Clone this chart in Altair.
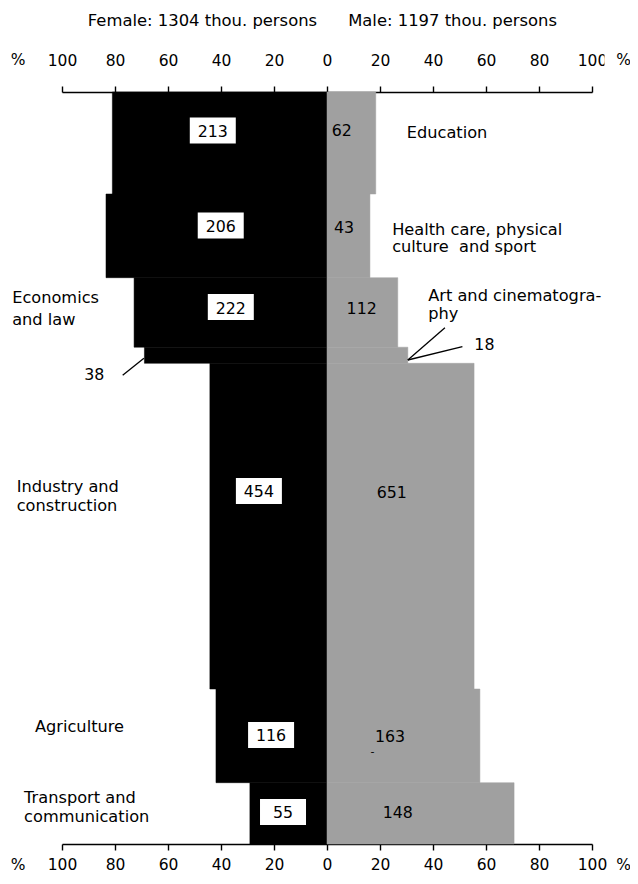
import altair as alt
import pandas as pd

# ---------------- data ----------------
categories = ["Education", "Health care, physical culture and sport", "Economics and law",
              "Art and cinematography", "Industry and construction", "Agriculture",
              "Transport and communication"]
female_thou = [213, 206, 222, 38, 454, 116, 55]
male_thou = [62, 43, 112, 18, 651, 163, 148]
# bar widths in % (as drawn)
female_pct = [81.0, 83.4, 72.8, 68.9, 44.2, 41.9, 29.1]
male_pct = [18.4, 16.2, 26.7, 30.5, 55.5, 57.7, 70.6]
# vertical extent of each band (chart units, top = 0)
band_top = [0, 102, 185.7, 255.2, 271.3, 597, 690.7]
band_bottom = [102, 185.7, 255.2, 271.3, 597, 690.7, 752]

tick_values = [-100, -80, -60, -40, -20, 0, 20, 40, 60, 80, 100]

# annotation positions (x in %, y in chart units)
fbox_x = [-43.1, -40.1, -36.3, None, -25.7, -21.1, -16.6]
fbox_y = [38.5, 133.5, 215.0, None, 399.0, 643.0, 720.0]
flabel_y = [45.0, 139.8, 221.5, None, 404.8, 649.0, 726.0]
mlabel_x = [1.8, 2.6, 7.4, None, 18.75, 18.1, 21.0]
mlabel_y = [44.0, 140.7, 221.5, None, 406.3, 649.7, 726.3]

cat_text = ["Education", "Health care, physical", "culture\u00a0 and sport",
            "Art and cinematogra-", "phy", "Economics", "and law",
            "Industry and", "construction", "Agriculture",
            "Transport and", "communication"]
cat_x = [30.1, 24.6, 24.6, 38.2, 38.2, -118.8, -118.8, -117.1, -117.1, -110.2, -114.3, -114.3]
cat_y = [46.3, 142.6, 159.9, 209.3, 226.5, 211.3, 233.0, 399.7, 418.7, 640.3, 710.7, 729.7]

out_text = ["38", "18"]
out_x = [-91.6, 55.6]
out_y = [288.0, 258.0]

lead_x = [-77.1, 30.5, 30.5]
lead_x2 = [-69.1, 44.5, 51.1]
lead_y = [283.3, 268.0, 268.0]
lead_y2 = [266.3, 235.7, 254.7]

head_text = ["Female: 1304 thou. persons", "Male: 1197 thou. persons"]
head_x = [-47.0, 47.4]
head_y = [-66.0, -66.0]

pct_text = ["%", "%", "%", "%"]
pct_x = [-116.6, 111.9, -116.6, 111.9]
pct_y = [-27.5, -27.5, 777.5, 777.5]

FONT = "DejaVu Sans"
GRAY = "#a0a0a0"

# ---------------- tables ----------------
bars = pd.DataFrame({
    "category": categories,
    "fx": [-v for v in female_pct],
    "mx": male_pct,
    "zero": [0] * len(categories),
    "top": band_top,
    "bottom": band_bottom,
})

fl = pd.DataFrame({"t": [str(v) for v in female_thou], "bx": fbox_x, "by": fbox_y, "ty": flabel_y}).dropna()
ml = pd.DataFrame({"t": [str(v) for v in male_thou], "x": mlabel_x, "y": mlabel_y}).dropna()
cl = pd.DataFrame({"t": cat_text, "x": cat_x, "y": cat_y})
ol = pd.DataFrame({"t": out_text, "x": out_x, "y": out_y})
ld = pd.DataFrame({"x": lead_x, "x2": lead_x2, "y": lead_y, "y2": lead_y2})
hd = pd.DataFrame({"t": head_text, "x": head_x, "y": head_y})
pc = pd.DataFrame({"t": pct_text, "x": pct_x, "y": pct_y})
dash = pd.DataFrame({"t": ["-"], "x": [17.2], "y": [660.0]})
# white patch that hides part of the last top tick label, as in the original
patch = pd.DataFrame({"x": [106.4], "y": [-32.0]})

xs = alt.Scale(domain=[-100, 100], nice=False, zero=False)
ys = alt.Scale(domain=[0, 752], reverse=True, nice=False, zero=False)


def make_axis(orient, pad):
    return alt.Axis(orient=orient, values=tick_values, labelExpr="'' + abs(datum.value)",
                    title=None, grid=False, domainColor="black", domainWidth=1.6,
                    tickColor="black", tickWidth=1.4, tickSize=6,
                    labelFont=FONT, labelFontSize=15.5, labelColor="black",
                    labelPadding=pad, labelOverlap=False, labelFlush=False, labelBound=False)


female = alt.Chart(bars).mark_rect(color="black", stroke="black", strokeWidth=0.5).encode(
    x=alt.X("fx:Q", scale=xs, axis=make_axis("top", 18)),
    x2="zero:Q",
    y=alt.Y("top:Q", scale=ys, axis=None),
    y2="bottom:Q",
)
male = alt.Chart(bars).mark_rect(color=GRAY, stroke=GRAY, strokeWidth=0.5).encode(
    x=alt.X("zero:Q", scale=xs, axis=make_axis("bottom", 7)),
    x2="mx:Q",
    y=alt.Y("top:Q", scale=ys, axis=None),
    y2="bottom:Q",
)

box_path = "M-1,-0.565L1,-0.565L1,0.565L-1,0.565Z"
boxes = alt.Chart(fl).mark_point(shape=box_path, size=2116, filled=True, color="white",
                                 opacity=1, strokeWidth=0).encode(
    x=alt.X("bx:Q", scale=xs, axis=None),
    y=alt.Y("by:Q", scale=ys, axis=None),
)

patch_mark = alt.Chart(patch).mark_point(shape="M-1,-2L1,-2L1,2L-1,2Z", size=81, filled=True,
                                         color="white", opacity=1, strokeWidth=0).encode(
    x=alt.X("x:Q", scale=xs, axis=None),
    y=alt.Y("y:Q", scale=ys, axis=None),
)


def texts(df, align, size, ycol="y", xcol="x"):
    return alt.Chart(df).mark_text(align=align, baseline="alphabetic", font=FONT,
                                   fontSize=size, color="black").encode(
        x=alt.X(f"{xcol}:Q", scale=xs, axis=None),
        y=alt.Y(f"{ycol}:Q", scale=ys, axis=None),
        text="t:N",
    )


f_text = texts(fl, "center", 15.8, ycol="ty", xcol="bx")
m_text = texts(ml, "left", 15.8)
c_text = texts(cl, "left", 16.2)
o_text = texts(ol, "left", 15.8)
h_text = texts(hd, "center", 16.4)
p_text = texts(pc, "center", 15.5)
d_text = alt.Chart(dash).mark_text(align="center", baseline="middle", font=FONT,
                                   fontSize=11, color="black").encode(
    x=alt.X("x:Q", scale=xs, axis=None),
    y=alt.Y("y:Q", scale=ys, axis=None),
    text="t:N",
)

leaders = alt.Chart(ld).mark_rule(color="black", strokeWidth=1.3).encode(
    x=alt.X("x:Q", scale=xs, axis=None),
    x2="x2:Q",
    y=alt.Y("y:Q", scale=ys, axis=None),
    y2="y2:Q",
)

chart = alt.layer(
    female, male, boxes, f_text, m_text, c_text, o_text, h_text, p_text, d_text, leaders,
    patch_mark
).resolve_scale(x="shared", y="shared").resolve_axis(x="independent").properties(
    width=530, height=752,
    autosize=alt.AutoSizeParams(type="none"),
    padding={"left": 54, "top": 84, "right": 38, "bottom": 32},
    background="white",
).configure_view(stroke=None)

chart.save("out.html", embed_options={"renderer": "svg", "actions": False})
